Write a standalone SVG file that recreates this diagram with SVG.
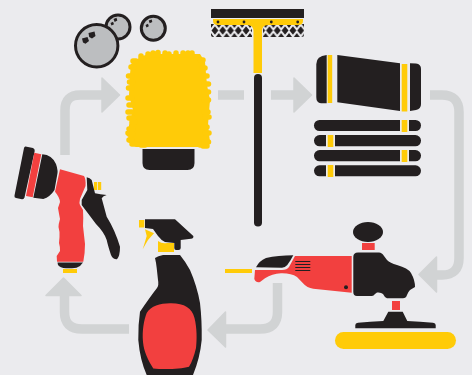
<svg xmlns="http://www.w3.org/2000/svg" width="472" height="375" viewBox="0 0 472 375">
<style>
.k{fill:#231f20}.y{fill:#ffcb08}.r{fill:#f2403f}.bg{fill:#ebebee}
.a{fill:none;stroke:#d1d3d4;stroke-width:9.5}.h{fill:#d1d3d4;stroke:#d1d3d4;stroke-width:1.5;stroke-linejoin:round}
.b{fill:#bcbec0;stroke:#231f20;stroke-width:3}
.f{fill:none;stroke:#ffcb08;stroke-width:5.500;stroke-linecap:round}
</style>
<defs>
<pattern id="net" x="211" y="24" width="7.800" height="13" patternUnits="userSpaceOnUse">
<rect width="7.800" height="13" fill="#ebebee"/>
<path class="k" d="M3.900 2.200L7.300 6.500L3.900 10.800L.5 6.500ZM0 0H3L0 4ZM7.800 0H4.800L7.800 4ZM0 9L3 13H0ZM7.800 9L4.800 13H7.800Z"/>
</pattern>
</defs>
<rect width="472" height="375" class="bg"/>
<g id="connectors">
<path class="a" d="M65 155V110Q65 95 80 95H102"/><path class="h" d="M102 78L119.500 95L102 112Z"/>
<path class="a" d="M218 95H244"/>
<path class="a" d="M271 95H294"/><path class="h" d="M294 78L311.500 95L294 112Z"/>
<path class="a" d="M430 95H442Q459 95 459 112V258Q459 275 442 275H436"/><path class="h" d="M436.500 257L419 274.500L436.500 292Z"/>
<path class="a" d="M277.500 283V312Q277.500 329 260 329H225"/><path class="h" d="M225.500 312L208 330L225.500 347Z"/>
<path class="a" d="M129 329H82Q64.500 329 64.500 312V295"/><path class="h" d="M46 295.500L63.500 278L81 295.500Z"/>
</g>
<g id="bubbles">
<circle class="b" cx="118" cy="27" r="12"/>
<circle class="b" cx="153.300" cy="28.300" r="12"/>
<path class="k" d="M110.500 23l2.500-1.300 1 2.500-2.500 1.300zM113.500 19l3-1.200 .8 2.800-2.600 1.300zM145.500 25l2.500-1.300 .8 2.500-2.300 1.200zM148.700 20.500l3-1 .6 2.500-2.600 1.200z"/>
<circle class="b" cx="96.700" cy="45.700" r="21.200"/>
<path class="k" d="M82 38.500l5.500-1.500 1.500 4-3.500 2.800-2.500-1.300zM88.500 33l6-1.500 1 4.500-3.500 2.500-2.800-1.500z"/>
</g>
<g id="mitt">
<path class="y" d="M131 64L142 56L150 54H200L205 62L207 85L210 100L208 125L210 142L204 147H136L128 142L129 125L133 110L129 95L130 74Z"/>
<path class="f" d="M141 58V56M148 56V54M153 55V53M158 55V52.500M165 56V53M169 57V54M176 56V53M183 55V53M192 56V53M188 55V53M133 61H136M131 67H134M203 60H200M205 68H202M128.500 76H132M129.500 82H133M128.500 88H132M207 76H203M208.500 84H204M208.500 92H204M208.500 100H204M128 98H132M129 105H133M128 112H132M129 118H133M208 112H204M209 117H205M207 127H203M209 133H205M132 122H135M129 129H133M129 134H133M129 140H132M132 144H136M141 145H145M208.500 142H204M207 146H203M200 145H203M128 133H132"/>
<path class="k" d="M142.500 149H194.500V163Q194.500 170 187.500 170H149.500Q142.500 170 142.500 163Z"/>
</g>
<g id="squeegee">
<rect class="k" x="211" y="9" width="93" height="9"/>
<path fill="url(#net)" d="M211 24H248Q252 24 252 30V37H213Q211 37 211 35ZM304 24H267Q263 24 263 30V37H302Q304 37 304 35Z"/>
<path class="y" d="M213 19H303V21Q303 25 298 25H268Q262 25 262 31V73H253.500V31Q253.500 25 247 25H218Q213 25 213 21Z"/>
<circle class="k" cx="218" cy="22" r="1.400"/><circle class="k" cx="244" cy="22" r="1.400"/><circle class="k" cx="271.300" cy="22" r="1.400"/><circle class="k" cx="297.700" cy="22" r="1.400"/>
<rect class="k" x="254" y="74" width="8" height="152.500" rx="4"/>
</g>
<g id="cloths">
<path class="k" d="M326.700 55V103.300H321Q316.300 103 316.300 97V64Q316.300 56 326.700 55Z"/>
<rect class="y" x="327.700" y="55" width="4.500" height="48"/>
<path class="k" d="M337.300 55L400 63.300V111L337.300 102.300Z"/>
<rect class="y" x="401.700" y="64" width="5.600" height="47.500"/>
<path class="k" d="M410 63.300L416 63.500Q421 64 421 69V104Q421 109 416 110L410 111Z"/>
<rect class="k" x="314" y="120" width="107" height="11" rx="5.500"/>
<rect class="k" x="314" y="135" width="107" height="11.300" rx="5.600"/>
<rect class="k" x="314" y="150" width="107" height="11.300" rx="5.600"/>
<rect class="k" x="314" y="165.300" width="107" height="11" rx="5.500"/>
<g class="bg"><rect x="400" y="119" width="9" height="13.500"/><rect x="326" y="134" width="9" height="13.500"/><rect x="400" y="149" width="9" height="13.500"/><rect x="326" y="164" width="9" height="13.500"/></g>
<g class="y"><rect x="401.700" y="120" width="5.600" height="12"/><rect x="327.700" y="135" width="5.600" height="12"/><rect x="401.700" y="150" width="5.600" height="12"/><rect x="327.700" y="165" width="5.600" height="12"/></g>
</g>
<g id="polisher">
<rect class="y" x="225" y="269" width="27" height="4"/>
<path class="k" d="M256 267.300Q259 261 266 258Q278 255.500 293.300 255.300Q291 260 287.300 265Q285 267.700 282 267.700Z"/>
<path class="r" d="M255 270H282Q287 270 289 267L295 256H351.700V292.700L313.300 288.700Q307 288 303 283.300L297 277Q291 273 281 273.300Q272 274 265 278.300L260 282Q256 283 254.300 279Z"/>
<path class="k" d="M295.300 261h15v1h-15zM295.300 264h15v1h-15zM295.300 267h15v1h-15zM295.300 270h15v1h-15z"/>
<circle class="k" cx="346" cy="287.200" r="2"/>
<ellipse class="k" cx="368" cy="232" rx="15" ry="10"/>
<rect class="r" x="362" y="243" width="12.700" height="7"/>
<path class="k" d="M353.300 257Q353.300 252.500 358 252.500H379Q382 252.500 384 256L387 260Q390 263 397 265Q408 268 411 273Q415 280 415 287L410 290Q408 292 407 295Q406 298.300 403 298.300H387Q385 298 383 294Q381 292 377 292.500L375 294Q373.500 296 372 296H357Q353.300 296 353.300 292Z"/>
<rect class="r" x="392" y="301" width="8" height="9"/>
<path class="k" d="M388.300 311.700H402.700L407.300 321Q420 321.500 433 322.700Q435.700 323 435.700 325V328.300H355.300V325Q355.300 323 358 322.700Q370 321.500 383.300 321Z"/>
<rect class="y" x="335" y="332" width="121" height="17" rx="8.500"/>
</g>
<g id="spray">
<rect class="y" x="139" y="220" width="5.300" height="7.500"/>
<path class="k" d="M145 219.300H175L193.300 236Q194 238.300 191 238.700L180.700 240V248Q180.700 250 178.500 250H176Q174.300 250 174.300 248V243L165 242Q161 240 158 236L153 229L145 228Z"/>
<path class="y" d="M145 229.300L154 233.300L148 240Q145 245 142.700 249.300Q145 242 146.700 236Z"/>
<path class="y" d="M158 241Q162 244 167 243H174V252H158Z"/>
<path class="k" d="M155 258Q158 256 163 255H180Q185 261 190 270Q197 286 200 303Q202 320 201.700 340Q200 358 193 375H146.700Q140 360 138.300 340Q138 325 140 311.700Q150 297 157 288Q159 285 158 280L156.700 268Q156 262 155 258Z"/>
<path class="r" d="M170 303.300C184 303 192 308 194.500 318C197 328 197 340 196 348C194 356 192 362 189 366.700C180 369.500 162 369.500 153.300 368.500C148 360 144 352 143 342C142 330 144 320 146.700 313C151 306 160 303.500 170 303.300Z"/>
</g>
<g id="hose-gun">
<path class="k" d="M25.500 146.500L33 148Q35 149 34.700 151L24.500 197.500Q24 199.500 22 199.300L16 198Q14 197.500 14.500 195.500L24 148Q24.500 146.300 25.500 146.500Z"/>
<path class="r" d="M34.300 152.700L41.300 154.300L32.700 197.300L26 196Z"/>
<path class="k" d="M42.300 154.300Q52 155 56 164Q58.500 171 57 176L54.500 190Q50 197 43.300 199L33.300 197.800Z"/>
<path class="r" d="M60 169.300L84 176Q86 179 85.500 186L80 199Q79 203 80 205L83 210Q83.500 218 83 226L85 244Q85 254 83.300 261.700H57L56.700 256L60 251Q60 246 59 243L59.500 237Q60 232 58.500 227Q58.500 224 60 219Q59 214 58 208L60 202Q59.500 197 55 191.700Z"/>
<path class="k" d="M86.700 177.300Q90 178 91.700 180L95 193.300Q100 194.500 106.700 195Q103 196 101.700 198.300L106.700 216.700Q115 230 120 246.700Q120 256 117 259.300Q113 259.500 111 255Q108 246 106.700 240Q104 232 96 224L81.700 205V200L87.300 190Z"/>
<path class="k" d="M57.500 262.500H83L80 266Q77 268.300 72 268.300H66Q60 268 58 265Z"/>
<rect class="y" x="63" y="269" width="14" height="4"/>
<rect class="y" x="94" y="182" width="3.200" height="8"/><rect class="y" x="98" y="182" width="3.200" height="8"/>
</g>
</svg>
